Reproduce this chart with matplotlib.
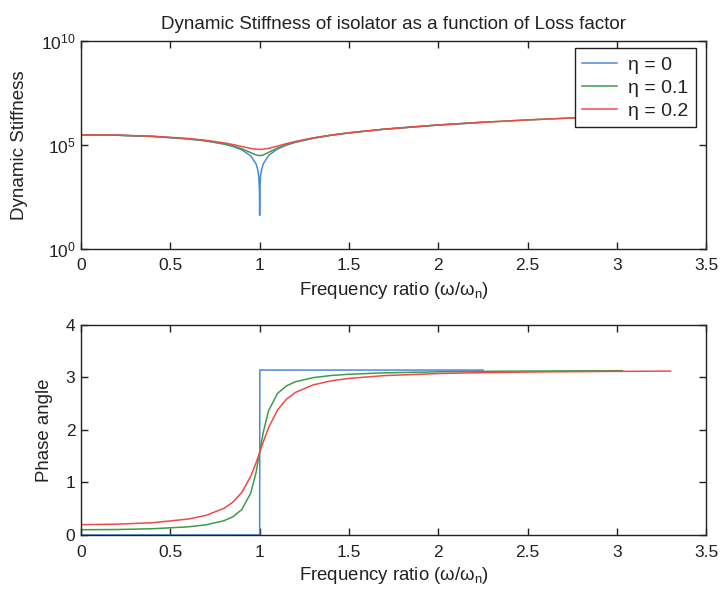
import numpy as np
import matplotlib
matplotlib.use("Agg")
import matplotlib.pyplot as plt
from matplotlib.ticker import NullLocator

plt.rcParams["font.family"] = ["Liberation Sans", "DejaVu Sans"]
plt.rcParams["mathtext.default"] = "regular"
plt.rcParams["text.color"] = "#222222"
plt.rcParams["axes.labelcolor"] = "#222222"
plt.rcParams["xtick.color"] = "#222222"
plt.rcParams["ytick.color"] = "#222222"

## data
labels = ["\u03b7 = 0", "\u03b7 = 0.1", "\u03b7 = 0.2"]
colors = ["#4a88dd", "#3c9c4c", "#f04a4a"]

# eta = 0
x0 = [0, 0.2, 0.4, 0.6, 0.7, 0.8, 0.85, 0.9, 0.95, 0.98, 0.99, 0.995, 0.999, 1.0,
      1.001, 1.005, 1.01, 1.02, 1.05, 1.1, 1.15, 1.2, 1.3, 1.4, 1.5, 1.7, 2.0, 2.25]
k0 = [3.0e5, 2.88e5, 2.52e5, 1.92e5, 1.53e5, 1.08e5, 8.33e4, 5.7e4, 2.93e4, 1.19e4,
      5.97e3, 2.99e3, 600, 40, 600, 3.0e3, 6.03e3, 1.21e4, 3.08e4, 6.3e4, 9.68e4,
      1.32e5, 2.07e5, 2.88e5, 3.75e5, 5.67e5, 9.0e5, 1.22e6]
p0 = [0, 0, 0, 0, 0, 0, 0, 0, 0, 0, 0, 0, 0, 0,
      3.1416, 3.1416, 3.1416, 3.1416, 3.1416, 3.1416, 3.1416, 3.1416, 3.1416,
      3.1416, 3.1416, 3.1416, 3.1416, 3.1416]

# eta = 0.1
x1 = [0, 0.2, 0.4, 0.6, 0.7, 0.8, 0.85, 0.9, 0.95, 0.98, 1.0, 1.02, 1.05, 1.1,
      1.15, 1.2, 1.3, 1.4, 1.5, 1.7, 2.0, 2.25, 2.5, 2.75, 3.03]
k1 = [3.0e5, 2.90e5, 2.54e5, 1.94e5, 1.56e5, 1.12e5, 8.85e4, 6.44e4, 4.19e4, 3.23e4,
      3.0e4, 3.23e4, 4.30e4, 6.98e4, 1.01e5, 1.35e5, 2.09e5, 2.90e5, 3.76e5,
      5.68e5, 9.0e5, 1.22e6, 1.58e6, 1.97e6, 2.45e6]
p1 = [0.0997, 0.1038, 0.1185, 0.155, 0.1936, 0.2709, 0.346, 0.4845, 0.798, 1.1941,
      1.5708, 1.9545, 2.3686, 2.6972, 2.8406, 2.9181, 2.9977, 3.0378, 3.0618,
      3.0888, 3.1083, 3.117, 3.1226, 3.1264, 3.1294]

# eta = 0.2
x2 = [0, 0.2, 0.4, 0.6, 0.7, 0.8, 0.85, 0.9, 0.95, 0.98, 1.0, 1.02, 1.05, 1.1,
      1.15, 1.2, 1.3, 1.4, 1.5, 1.7, 2.0, 2.25, 2.5, 2.75, 3.0, 3.3]
k2 = [3.0e5, 2.94e5, 2.59e5, 2.01e5, 1.64e5, 1.24e5, 1.03e5, 8.28e4, 6.68e4, 6.12e4,
      6.0e4, 6.12e4, 6.74e4, 8.7e4, 1.14e5, 1.45e5, 2.16e5, 2.94e5, 3.80e5,
      5.70e5, 9.02e5, 1.22e6, 1.58e6, 1.97e6, 2.40e6, 2.97e6]
p2 = [0.197, 0.2053, 0.2337, 0.3029, 0.3737, 0.5071, 0.6245, 0.8113, 1.1176, 1.3753,
      1.5708, 1.7701, 2.0445, 2.3806, 2.5865, 2.715, 2.8594, 2.9363, 2.9829,
      3.0362, 3.075, 3.0924, 3.1035, 3.1111, 3.1166, 3.1214]

xticks = [0, 0.5, 1, 1.5, 2, 2.5, 3, 3.5]
xticklabels = ["0", "0.5", "1", "1.5", "2", "2.5", "3", "3.5"]

xs = [x0, x1, x2]
ks = [k0, k1, k2]
ps = [p0, p1, p2]

fig = plt.figure(figsize=(7.2, 5.91), dpi=100)
ax1 = fig.add_axes([0.1125, 0.5795, 0.8685, 0.351])
ax2 = fig.add_axes([0.1125, 0.0948, 0.8685, 0.3553])

for x, k, c, lab in zip(xs, ks, colors, labels):
    ax1.semilogy(x, k, color=c, lw=1.1, label=lab)
for x, p, c in zip(xs, ps, colors):
    ax2.plot(x, p, color=c, lw=1.1)

xlab = "Frequency ratio (\u03c9/\u03c9$_n$)"

ax1.set_xlim(0, 3.5)
ax1.set_ylim(1, 1e10)
ax1.set_yticks([1, 1e5, 1e10])
ax1.yaxis.set_minor_locator(NullLocator())
ax1.set_xticks(xticks)
ax1.set_xticklabels(xticklabels)
ax1.set_ylabel("Dynamic Stiffness", fontsize=13.5)
ax1.yaxis.set_label_coords(-0.084, 0.5)
ax1.set_xlabel(xlab, fontsize=13.4)
ax1.xaxis.set_label_coords(0.5, -0.15)
ax1.set_title("Dynamic Stiffness of isolator as a function of Loss factor",
              fontsize=13.5, pad=9)
leg = ax1.legend(loc="upper right", fontsize=14, fancybox=False, framealpha=1,
                 edgecolor="#222222", handlelength=1.8, handletextpad=0.55,
                 borderpad=0.4, labelspacing=0.28, borderaxespad=0,
                 bbox_to_anchor=(0.9835, 0.966))
leg.get_frame().set_linewidth(1.0)

ax2.set_xlim(0, 3.5)
ax2.set_ylim(0, 4)
ax2.set_xticks(xticks)
ax2.set_xticklabels(xticklabels)
ax2.set_yticks([0, 1, 2, 3, 4])
ax2.set_ylabel("Phase angle", fontsize=13.4)
ax2.yaxis.set_label_coords(-0.045, 0.5)
ax2.set_xlabel(xlab, fontsize=13.4)
ax2.xaxis.set_label_coords(0.5, -0.145)

for ax in [ax1, ax2]:
    ax.tick_params(direction="in", top=True, right=True, length=5, width=1,
                   labelsize=12.5)
    ax.tick_params(axis="x", pad=7)
    ax.tick_params(axis="y", pad=4)
    for s in ax.spines.values():
        s.set_linewidth(1.0)
        s.set_color("#222222")

plt.savefig("out.png", dpi=100)
